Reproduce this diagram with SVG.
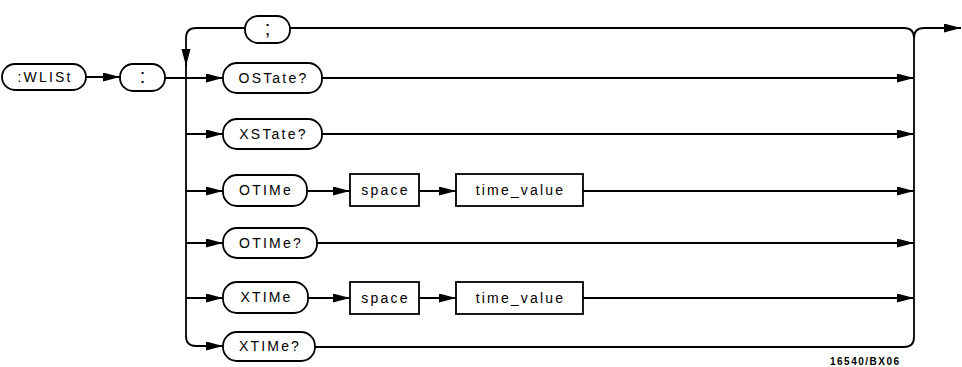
<svg xmlns="http://www.w3.org/2000/svg" width="962" height="367" viewBox="0 0 962 367">
<style>
.n{fill:#fff;stroke:#000;stroke-width:1.8}
.c{fill:none;stroke:#000;stroke-width:1.8}
.t{font-family:"Liberation Sans",Arial,sans-serif;font-size:14px;letter-spacing:2.2px;fill:#000;text-anchor:middle;dominant-baseline:central}
.p{font-size:20px;letter-spacing:0}
.f{font-family:"Liberation Sans",Arial,sans-serif;font-size:10px;font-weight:bold;letter-spacing:1.5px;fill:#000}
</style>
<defs>
<marker id="a" markerUnits="userSpaceOnUse" markerWidth="18" markerHeight="10" refX="17" refY="4.5" orient="auto">
<path d="M0,0 L17,4.5 L0,9 z" fill="#000"/>
</marker>
</defs>
<g id="connectors">
<line class="c" x1="86" y1="77" x2="120" y2="77" marker-end="url(#a)"/>
<line class="c" x1="165" y1="78" x2="223" y2="78" marker-end="url(#a)"/>
<path class="c" d="M245,28 H196 Q186,28 186,38 V66" marker-end="url(#a)"/>
<path class="c" d="M186,64 V336 Q186,346 196,346 H223" marker-end="url(#a)"/>
<line class="c" x1="186" y1="134" x2="223" y2="134" marker-end="url(#a)"/>
<line class="c" x1="186" y1="191" x2="223" y2="191" marker-end="url(#a)"/>
<line class="c" x1="186" y1="243" x2="223" y2="243" marker-end="url(#a)"/>
<line class="c" x1="186" y1="298" x2="223" y2="298" marker-end="url(#a)"/>
<line class="c" x1="322" y1="78" x2="914" y2="78" marker-end="url(#a)"/>
<line class="c" x1="322" y1="134" x2="914" y2="134" marker-end="url(#a)"/>
<line class="c" x1="307" y1="191" x2="350" y2="191" marker-end="url(#a)"/>
<line class="c" x1="419" y1="191" x2="456" y2="191" marker-end="url(#a)"/>
<line class="c" x1="583" y1="191" x2="914" y2="191" marker-end="url(#a)"/>
<line class="c" x1="317" y1="243" x2="914" y2="243" marker-end="url(#a)"/>
<line class="c" x1="308" y1="298" x2="350" y2="298" marker-end="url(#a)"/>
<line class="c" x1="419" y1="298" x2="456" y2="298" marker-end="url(#a)"/>
<line class="c" x1="583" y1="298" x2="914" y2="298" marker-end="url(#a)"/>
<path class="c" d="M290,28 H904 Q914,28 914,38 V337 Q914,347 904,347 H315"/>
<path class="c" d="M914,38 Q914,28 924,28 H961" marker-end="url(#a)"/>
</g>
<g id="n-wlist"><rect class="n" x="2" y="64" width="84" height="26" rx="13"/><text class="t" x="45" y="77">:WLISt</text></g>
<g id="n-colon"><rect class="n" x="120" y="64" width="45" height="27" rx="13"/><text class="t p" x="142.5" y="76">:</text></g>
<g id="n-semi"><rect class="n" x="245" y="16" width="45" height="27" rx="13"/><text class="t p" x="267.5" y="28">;</text></g>
<g id="n-ostate"><rect class="n" x="223" y="63" width="99" height="30" rx="14"/><text class="t" x="273.5" y="78">OSTate?</text></g>
<g id="n-xstate"><rect class="n" x="223" y="119" width="99" height="30" rx="14"/><text class="t" x="273.5" y="134">XSTate?</text></g>
<g id="n-otime"><rect class="n" x="223" y="175" width="84" height="31" rx="14"/><text class="t" x="266" y="190">OTIMe</text></g>
<g id="n-space1"><rect class="n" x="350" y="174" width="69" height="32"/><text class="t" x="385.5" y="190">space</text></g>
<g id="n-tv1"><rect class="n" x="456" y="174" width="127" height="32"/><text class="t" x="520.5" y="190">time_value</text></g>
<g id="n-otimeq"><rect class="n" x="223" y="228" width="94" height="30" rx="14"/><text class="t" x="271" y="243">OTIMe?</text></g>
<g id="n-xtime"><rect class="n" x="223" y="282" width="85" height="31" rx="14"/><text class="t" x="266.5" y="297">XTIMe</text></g>
<g id="n-space2"><rect class="n" x="350" y="282" width="69" height="32"/><text class="t" x="385.5" y="298">space</text></g>
<g id="n-tv2"><rect class="n" x="456" y="282" width="127" height="32"/><text class="t" x="520.5" y="298">time_value</text></g>
<g id="n-xtimeq"><rect class="n" x="223" y="332" width="92" height="29" rx="14"/><text class="t" x="270" y="346">XTIMe?</text></g>
<text class="f" x="830" y="365">16540/BX06</text>
</svg>
